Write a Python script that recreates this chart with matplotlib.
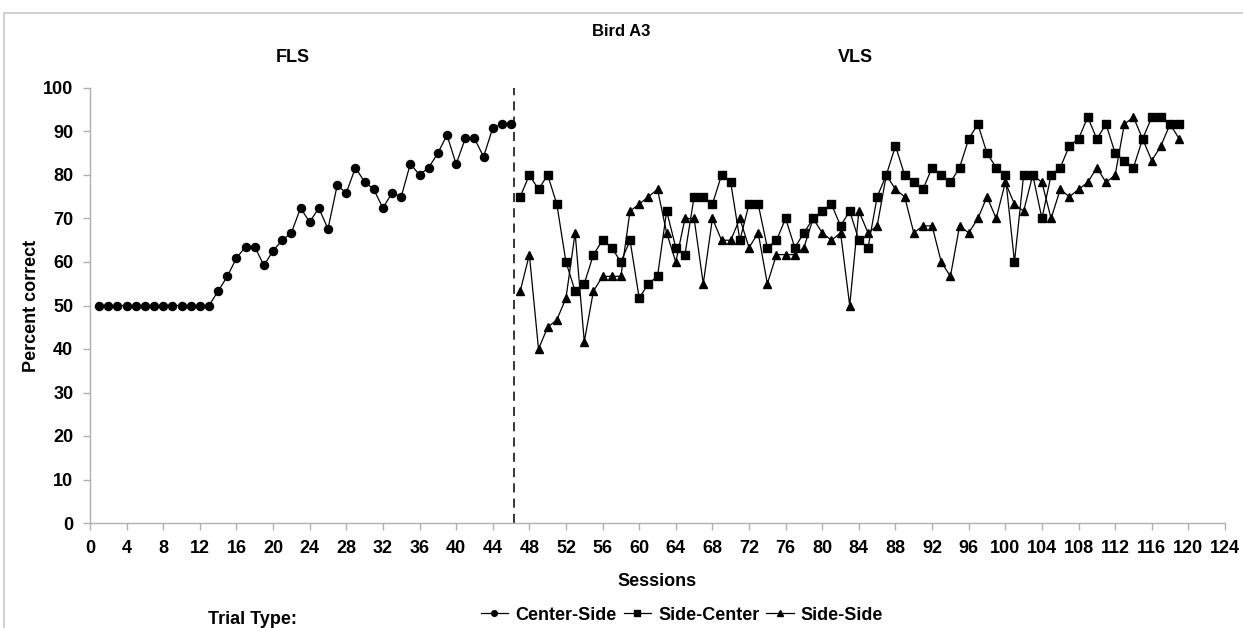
import numpy as np
import matplotlib.pyplot as plt
from matplotlib.patches import Rectangle

# Fonts: bold Arial-like, as in the Excel original
plt.rcParams['font.family'] = ['Liberation Sans', 'DejaVu Sans']
plt.rcParams['font.weight'] = 'bold'

# Data
cs_sessions = list(range(1, 47))
cs_values = [50] * 13 + [53.3, 56.7, 60.9, 63.5, 63.5, 59.2, 62.6, 65.0, 66.7, 72.4, 69.2,
                         72.4, 67.6, 77.6, 75.9, 81.7, 78.4, 76.7, 72.4, 75.9, 75.0, 82.6,
                         80.0, 81.7, 85.0, 89.2, 82.5, 88.4, 88.4, 84.2, 90.8, 91.7, 91.7]

vls_sessions = list(range(47, 120))
sc_values = [75, 80, 76.7, 80, 73.3, 60, 53.3, 55, 61.7, 65, 63.3, 60, 65, 51.7, 55, 56.7,
             71.7, 63.3, 61.7, 75, 75, 73.3, 80, 78.3, 65, 73.3, 73.3, 63.3, 65, 70, 63.3,
             66.7, 70, 71.7, 73.3, 68.3, 71.7, 65, 63.3, 75, 80, 86.7, 80, 78.3, 76.7, 81.7,
             80, 78.3, 81.7, 88.3, 91.7, 85, 81.7, 80, 60, 80, 80, 70, 80, 81.7, 86.7, 88.3,
             93.3, 88.3, 91.7, 85, 83.3, 81.7, 88.3, 93.3, 93.3, 91.7, 91.7]
ss_values = [53.3, 61.7, 40, 45, 46.7, 51.7, 66.7, 41.7, 53.3, 56.7, 56.7, 56.7, 71.7, 73.3,
             75, 76.7, 66.7, 60, 70, 70, 55, 70, 65, 65, 70, 63.3, 66.7, 55, 61.7, 61.7,
             61.7, 63.3, 70, 66.7, 65, 66.7, 50, 71.7, 66.7, 68.3, 80, 76.7, 75, 66.7, 68.3,
             68.3, 60, 56.7, 68.3, 66.7, 70, 75, 70, 78.3, 73.3, 71.7, 80, 78.3, 70, 76.7,
             75, 76.7, 78.3, 81.7, 78.3, 80, 91.7, 93.3, 88.3, 83.3, 86.7, 91.7, 88.3]

phase_change = 46.3

fig = plt.figure(figsize=(12.43, 6.28), dpi=100)
ax = fig.add_axes([90 / 1243, 1 - 523 / 628, (1225 - 90) / 1243, (523 - 88) / 628])

# light frame round the whole chart
fig.patches.append(Rectangle((4 / 1243, -0.01), 1.01, 1 - 13 / 628 + 0.01, transform=fig.transFigure,
                             fill=False, edgecolor="#c8c8c8", lw=1.2))

ax.plot(cs_sessions, cs_values, "-o", color="black", lw=0.9, markersize=5.8, label="Center-Side")
ax.plot(vls_sessions, sc_values, "-s", color="black", lw=0.9, markersize=5.5, label="Side-Center")
ax.plot(vls_sessions, ss_values, "-^", color="black", lw=0.9, markersize=6.3, label="Side-Side")

ax.axvline(phase_change, color="black", lw=1.1, ls=(0, (6, 4)))

ax.set_xlim(0, 124)
ax.set_ylim(0, 100)
ax.set_xticks(np.arange(0, 125, 4))
ax.set_yticks(np.arange(0, 101, 10))
ax.tick_params(axis="both", labelsize=13, color="#b0b0b0", length=5, width=1, pad=7)
for s in ["top", "right"]:
    ax.spines[s].set_visible(False)
for s in ["left", "bottom"]:
    ax.spines[s].set_color("#b0b0b0")
    ax.spines[s].set_linewidth(1)

ax.set_xlabel("Sessions", fontsize=13, fontweight="bold")
ax.set_ylabel("Percent correct", fontsize=13, fontweight="bold")
ax.xaxis.set_label_coords(0.5, -(582 - 523) / 435)
ax.xaxis.label.set_va("center")
ax.yaxis.set_label_coords((32 - 90) / 1135, 0.5)
ax.yaxis.label.set_va("center")

fig.text(621 / 1243, 1 - 31 / 628, "Bird A3", ha="center", va="center", fontsize=12, fontweight="bold")
fig.text(293 / 1243, 1 - 58 / 628, "FLS", ha="center", va="center", fontsize=13, fontweight="bold")
fig.text(855 / 1243, 1 - 58 / 628, "VLS", ha="center", va="center", fontsize=13, fontweight="bold")

fig.text(252 / 1243, 1 - 620 / 628, "Trial Type:", ha="center", va="center", fontsize=13, fontweight="bold")
fig.legend(loc="center", bbox_to_anchor=(682 / 1243, 1 - 615 / 628), ncol=3, frameon=False,
           fontsize=13, handlelength=1.5, handletextpad=0.4, columnspacing=0.4, markerscale=0.7)

fig.savefig("out.png", dpi=100)
